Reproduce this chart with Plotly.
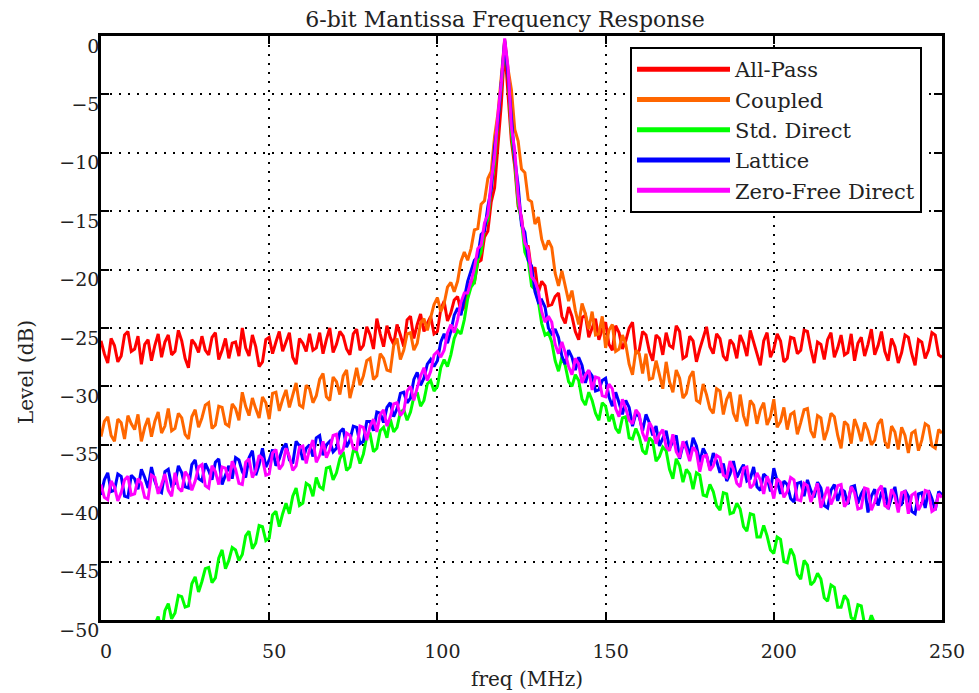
import plotly.graph_objects as go

# frequency samples (MHz), 1 MHz apart
freq_mhz = list(range(0, 251))

all_pass = [
    -26.1, -27.2, -28.0, -25.9, -26.5, -27.9, -27.4, -25.6, -25.3, -27.0,
    -26.8, -25.7, -28.1, -26.4, -26.0, -27.8, -26.5, -25.5, -27.5, -26.2,
    -25.6, -27.3, -27.0, -25.2, -26.1, -27.6, -28.4, -26.0, -26.4, -27.1,
    -25.7, -26.9, -27.3, -25.8, -25.4, -27.7, -26.9, -25.9, -27.6, -26.3,
    -26.2, -27.4, -25.0, -26.7, -27.4, -25.6, -26.6, -28.3, -27.9, -26.0,
    -25.8, -27.2, -26.2, -25.3, -27.0, -26.1, -25.4, -27.5, -28.1, -25.9,
    -26.3, -27.0, -25.5, -26.9, -26.7, -25.4, -27.2, -26.0, -25.0, -27.1,
    -26.4, -25.3, -25.7, -26.8, -27.3, -25.5, -25.1, -26.9, -26.5, -24.9,
    -25.6, -26.8, -24.2, -25.5, -26.6, -24.8, -25.8, -26.4, -24.7, -25.6,
    -26.6, -24.3, -24.0, -25.9, -24.7, -23.8, -25.3, -24.6, -24.0, -25.5,
    -25.3, -23.4, -22.7, -24.4, -23.7, -22.6, -22.3, -23.6, -23.2, -21.7,
    -21.0, -21.1, -19.4, -19.2, -17.2, -16.7, -14.2, -13.0, -9.1, -5.8,
    -1.0, -4.6, -9.0, -11.2, -14.6, -15.5, -17.9, -18.0, -20.2, -19.8,
    -22.0, -21.0, -21.4, -23.1, -23.0, -22.3, -22.0, -24.0, -24.6, -23.2,
    -24.0, -25.3, -26.0, -24.1, -23.9, -25.8, -25.0, -24.2, -26.0, -25.1,
    -24.5, -26.4, -26.9, -24.8, -25.4, -26.8, -26.1, -25.0, -24.5, -27.2,
    -26.9, -25.3, -25.6, -27.0, -27.8, -25.6, -25.9, -27.3, -25.4, -26.5,
    -26.7, -24.8, -25.3, -27.6, -27.4, -25.7, -26.1, -27.9, -26.8, -25.9,
    -24.9, -26.6, -27.2, -25.5, -25.9, -27.4, -27.8, -26.0, -26.4, -27.6,
    -25.6, -26.3, -27.4, -25.2, -26.2, -27.3, -28.2, -26.1, -25.4, -27.5,
    -26.8, -25.5, -26.1, -27.9, -27.6, -25.8, -25.9, -27.2, -26.9, -25.2,
    -25.3, -26.8, -28.0, -26.2, -26.4, -27.7, -26.0, -25.4, -27.5, -26.7,
    -25.6, -27.3, -27.1, -25.5, -27.8, -26.3, -25.8, -27.4, -26.4, -25.1,
    -27.3, -26.5, -25.3, -27.0, -27.8, -25.9, -26.6, -28.0, -27.1, -25.6,
    -25.8, -27.2, -28.2, -26.0, -26.2, -27.6, -26.9, -25.4, -25.6, -27.3,
    -27.5,
]

coupled = [
    -34.3, -33.0, -32.6, -34.2, -34.7, -32.8, -33.1, -34.5, -32.5, -33.2,
    -33.7, -32.4, -34.7, -33.5, -32.7, -34.3, -33.0, -32.2, -34.0, -33.4,
    -31.9, -33.8, -33.6, -32.3, -32.7, -34.1, -34.5, -32.6, -32.0, -33.5,
    -32.7, -31.6, -31.4, -33.6, -33.3, -31.7, -31.8, -33.2, -33.4, -31.5,
    -31.9, -32.9, -30.5, -31.7, -32.5, -31.0, -31.9, -32.7, -30.9, -31.4,
    -32.8, -30.6, -30.5, -32.1, -31.1, -30.3, -31.8, -30.8, -29.7, -31.6,
    -31.8, -29.9, -30.2, -31.4, -30.8, -29.4, -28.9, -30.9, -31.2, -29.2,
    -29.6, -30.7, -29.1, -28.6, -31.0, -29.8, -28.4, -29.9, -29.1, -27.8,
    -27.6, -29.4, -29.1, -27.2, -27.6, -28.6, -28.7, -26.5, -25.9, -27.7,
    -26.9, -25.5, -25.4, -26.9, -26.3, -24.6, -24.2, -25.2, -24.2, -23.0,
    -22.4, -23.6, -22.9, -21.5, -21.1, -21.9, -21.0, -19.3, -18.5, -19.2,
    -18.2, -16.6, -16.5, -14.4, -14.1, -12.2, -11.6, -8.6, -6.6, -3.2,
    -0.3, -2.8, -4.6, -8.0, -9.0, -11.4, -11.7, -14.0, -14.2, -16.1,
    -15.5, -17.4, -18.3, -17.5, -18.1, -20.3, -21.4, -20.1, -21.3, -22.7,
    -21.8, -23.5, -24.7, -22.9, -23.8, -25.1, -23.6, -25.6, -25.5, -24.0,
    -26.7, -25.2, -24.7, -27.0, -26.8, -25.6, -26.4, -28.1, -29.0, -26.9,
    -27.2, -28.9, -27.2, -29.4, -29.3, -27.8, -29.0, -30.2, -27.9, -29.6,
    -30.5, -28.6, -29.3, -31.0, -30.6, -29.2, -28.7, -31.2, -31.4, -29.8,
    -30.7, -31.9, -32.3, -30.2, -30.4, -32.4, -31.1, -30.5, -32.3, -33.0,
    -30.7, -32.5, -33.4, -31.2, -31.6, -33.2, -32.0, -31.4, -33.3, -32.6,
    -31.1, -33.5, -33.0, -31.8, -33.7, -32.4, -32.2, -34.1, -33.1, -32.0,
    -31.9, -33.8, -34.4, -32.5, -32.7, -34.6, -33.7, -32.3, -32.6, -34.2,
    -35.3, -33.0, -33.3, -34.9, -32.8, -33.6, -34.7, -33.1, -33.8, -35.0,
    -34.6, -33.2, -32.8, -34.7, -35.3, -33.4, -33.9, -35.4, -33.5, -34.2,
    -35.7, -34.0, -33.8, -35.5, -34.6, -33.2, -33.4, -35.1, -35.3, -33.7,
    -34.0,
]

std_direct = [
    None, None, None, None, None, None, None, None, None, None,
    None, None, None, None, None, None, -50.4, -49.7, -51.1, -49.2,
    -48.6, -49.9, -49.4, -47.9, -48.0, -48.9, -48.8, -46.9, -46.3, -47.6,
    -46.7, -45.6, -45.5, -46.8, -46.4, -44.7, -44.0, -45.6, -44.9, -43.8,
    -44.0, -44.9, -44.4, -42.8, -42.4, -43.9, -43.4, -41.9, -42.0, -43.2,
    -43.0, -41.0, -40.7, -42.0, -40.9, -40.0, -40.9, -39.4, -38.7, -40.2,
    -40.0, -38.3, -38.5, -39.4, -37.8, -38.6, -38.8, -37.0, -36.9, -38.0,
    -37.4, -36.2, -35.6, -37.2, -36.9, -35.5, -35.6, -36.6, -35.8, -34.3,
    -34.1, -35.6, -35.3, -33.8, -33.5, -34.4, -32.8, -33.9, -33.5, -32.2,
    -32.0, -32.9, -32.2, -30.9, -30.5, -31.7, -31.2, -29.8, -29.5, -30.4,
    -30.0, -28.4, -27.7, -28.3, -27.3, -25.9, -25.2, -25.5, -24.3, -22.5,
    -21.5, -21.1, -19.2, -18.5, -16.4, -15.7, -13.0, -10.8, -7.1, -4.3,
    -0.5, -3.2, -8.4, -10.6, -14.3, -15.9, -18.5, -19.2, -21.4, -21.7,
    -22.7, -24.6, -25.6, -25.4, -26.2, -27.8, -28.7, -27.5, -28.2, -29.6,
    -30.0, -29.0, -29.5, -31.1, -31.6, -30.5, -31.2, -32.3, -32.9, -31.4,
    -31.7, -33.0, -32.4, -33.6, -34.0, -32.7, -32.6, -34.4, -34.5, -33.6,
    -34.3, -35.5, -35.8, -34.4, -34.7, -36.4, -36.0, -35.2, -35.5, -37.1,
    -37.9, -36.2, -36.8, -38.2, -37.1, -37.5, -38.8, -37.4, -37.6, -39.3,
    -39.4, -38.4, -39.0, -40.2, -40.6, -39.1, -39.2, -40.9, -40.8, -40.0,
    -40.5, -42.0, -42.4, -40.9, -41.0, -42.9, -42.9, -41.9, -42.8, -44.0,
    -44.3, -42.9, -43.1, -45.0, -45.1, -43.9, -44.5, -46.1, -46.5, -44.9,
    -45.3, -47.0, -46.7, -46.0, -46.5, -48.1, -48.4, -47.0, -47.2, -48.9,
    -48.9, -47.9, -48.3, -49.8, -50.0, -48.7, -48.8, -50.4, -50.5, -49.6,
    -50.3, -51.2, -51.9, None, None, None, None, None, None, None,
    None, None, None, None, None, None, None, None, None, None,
    None,
]

lattice = [
    -39.3, -38.0, -37.4, -39.0, -38.9, -37.5, -37.7, -39.4, -39.5, -37.6,
    -37.9, -38.8, -37.1, -37.8, -38.7, -36.9, -38.1, -38.9, -39.1, -37.3,
    -37.1, -38.5, -38.3, -36.8, -37.4, -38.6, -38.7, -36.7, -36.3, -37.9,
    -38.1, -36.6, -37.2, -38.0, -36.5, -36.2, -38.4, -37.5, -36.8, -37.9,
    -36.1, -36.3, -37.3, -37.8, -36.1, -35.5, -37.6, -36.7, -35.3, -36.9,
    -36.3, -35.4, -36.8, -36.2, -35.3, -34.9, -36.3, -36.6, -34.7, -35.1,
    -36.3, -35.3, -35.0, -36.0, -34.4, -34.2, -35.9, -35.0, -34.7, -35.6,
    -35.3, -33.9, -33.6, -35.2, -34.6, -33.4, -33.5, -34.9, -34.7, -33.0,
    -33.0, -33.8, -32.2, -32.3, -33.1, -31.8, -31.4, -32.6, -31.9, -30.6,
    -30.5, -31.4, -31.0, -29.4, -28.8, -29.9, -29.3, -28.1, -27.7, -28.3,
    -27.8, -26.2, -25.5, -26.3, -25.3, -23.9, -23.3, -23.9, -22.6, -21.0,
    -20.1, -19.2, -18.9, -17.0, -16.7, -14.6, -13.1, -9.5, -7.4, -3.5,
    -0.4, -3.4, -7.0, -10.5, -12.8, -16.2, -16.8, -19.2, -19.7, -21.9,
    -22.8, -22.6, -23.2, -25.0, -25.5, -25.1, -25.8, -27.4, -28.1, -26.9,
    -27.5, -28.6, -27.5, -28.2, -29.7, -28.7, -29.1, -30.4, -30.3, -29.5,
    -29.3, -30.9, -31.7, -30.5, -31.4, -32.4, -31.2, -31.8, -33.4, -32.3,
    -32.6, -33.8, -32.4, -33.1, -34.2, -33.4, -35.1, -34.5, -33.8, -35.3,
    -34.7, -34.2, -36.2, -35.0, -34.8, -36.0, -34.4, -35.1, -36.5, -35.3,
    -35.9, -37.0, -35.7, -36.4, -37.4, -36.6, -38.1, -37.5, -36.4, -37.8,
    -37.2, -36.7, -38.1, -37.9, -36.9, -38.6, -38.9, -37.5, -37.8, -39.0,
    -37.0, -38.0, -39.2, -38.1, -38.4, -39.6, -39.9, -38.3, -38.2, -39.4,
    -38.0, -38.9, -39.5, -38.2, -38.7, -40.2, -40.4, -38.9, -38.4, -39.8,
    -38.8, -39.0, -40.1, -38.6, -38.5, -40.0, -39.2, -38.7, -40.8, -39.4,
    -38.8, -40.2, -39.1, -38.7, -40.5, -39.5, -38.6, -40.3, -40.1, -38.9,
    -39.4, -40.7, -40.9, -39.2, -39.1, -40.4, -38.9, -39.6, -40.6, -39.0,
    -39.3,
]

zero_free_direct = [
    -38.4, -39.5, -39.7, -38.1, -38.6, -39.8, -39.1, -38.0, -37.7, -39.3,
    -39.2, -37.9, -38.3, -39.5, -39.6, -37.6, -37.8, -39.2, -38.4, -37.5,
    -38.9, -39.4, -37.4, -38.7, -39.0, -37.3, -37.7, -38.9, -38.1, -36.9,
    -36.7, -38.5, -38.7, -36.8, -37.3, -38.4, -36.9, -37.0, -38.1, -36.4,
    -37.1, -38.3, -38.4, -36.5, -36.2, -37.8, -37.2, -35.9, -36.2, -37.6,
    -37.5, -35.7, -35.4, -37.1, -36.7, -35.3, -36.0, -37.2, -36.8, -35.2,
    -35.1, -36.6, -35.4, -34.6, -36.5, -35.9, -34.7, -36.1, -35.4, -34.2,
    -34.1, -35.8, -35.4, -34.0, -34.2, -35.3, -35.4, -33.4, -33.5, -34.6,
    -33.4, -32.8, -33.9, -32.4, -32.0, -33.4, -32.6, -31.5, -31.4, -32.5,
    -32.1, -30.4, -30.0, -31.2, -30.1, -29.1, -28.4, -29.5, -28.7, -27.3,
    -27.0, -27.5, -26.9, -25.4, -24.7, -25.4, -24.3, -22.8, -22.0, -22.0,
    -21.0, -19.9, -18.2, -17.9, -16.0, -15.3, -12.4, -10.3, -6.7, -4.0,
    -0.2, -2.7, -7.8, -9.8, -13.7, -15.5, -17.7, -18.3, -20.6, -21.0,
    -21.8, -23.6, -24.5, -24.0, -24.5, -26.4, -27.2, -26.2, -27.1, -28.3,
    -29.0, -27.6, -28.1, -29.7, -29.0, -28.6, -30.3, -29.2, -29.3, -30.8,
    -30.9, -29.8, -30.2, -31.9, -32.6, -31.1, -31.9, -32.9, -33.2, -32.0,
    -32.4, -34.0, -34.7, -33.1, -33.6, -34.9, -34.1, -33.7, -35.2, -35.5,
    -34.1, -35.6, -36.1, -34.7, -35.4, -36.4, -35.2, -35.6, -37.3, -36.0,
    -35.9, -37.2, -36.8, -35.9, -36.1, -37.6, -37.8, -36.4, -37.1, -38.3,
    -38.6, -37.0, -36.9, -38.7, -38.4, -37.4, -38.0, -39.2, -37.7, -38.4,
    -39.6, -37.9, -38.2, -39.5, -39.0, -37.8, -38.0, -39.7, -39.8, -38.3,
    -38.5, -39.9, -39.0, -38.3, -40.4, -39.5, -38.6, -40.1, -39.4, -38.5,
    -38.4, -40.3, -39.9, -38.6, -39.1, -40.5, -40.4, -38.7, -38.8, -40.6,
    -39.9, -38.9, -38.5, -40.2, -40.4, -38.8, -39.4, -40.8, -39.1, -39.0,
    -40.9, -39.3, -39.1, -40.6, -40.0, -38.9, -39.0, -40.7, -40.5, -39.2,
    -39.5,
]

series_names = ["All-Pass", "Coupled", "Std. Direct", "Lattice", "Zero-Free Direct"]
series_values = [all_pass, coupled, std_direct, lattice, zero_free_direct]
series_colors = ["#FF0000", "#FF6600", "#00FF00", "#0000FF", "#FF00FF"]
x_ticks = [0, 50, 100, 150, 200, 250]
y_ticks = [0, -5, -10, -15, -20, -25, -30, -35, -40, -45, -50]

FONT = "DejaVu Serif"
# the page adds an 8 px body margin; the figure is sized to fill the rest
OFF = 8
W, H = 979 - OFF, 693 - OFF
PX0, PX1, PY0, PY1 = 101, 942, 36, 620   # plot area in page pixels
L, R, T, B = PX0 - OFF, 979 - PX1, PY0 - OFF, 693 - PY1
pw, ph = PX1 - PX0, PY1 - PY0

fig = go.Figure()
for name, vals, col in zip(series_names, series_values, series_colors):
    fig.add_trace(go.Scatter(x=freq_mhz, y=vals, mode="lines", name=name,
                             line=dict(color=col, width=3),
                             showlegend=False, hoverinfo="skip"))
for name, col in zip(series_names, series_colors):
    fig.add_trace(go.Scatter(x=[None], y=[None], mode="lines", name=name,
                             line=dict(color=col, width=5), showlegend=True))

axis_common = dict(
    showline=True, linecolor="black", linewidth=2.5, mirror="ticks",
    ticks="inside", ticklen=8, tickwidth=2, tickcolor="black",
    showgrid=True, gridcolor="black", gridwidth=2, griddash="2px,7px",
    zeroline=False, tickfont=dict(family=FONT, size=19, color="#222"),
)

fig.update_xaxes(range=[0, 250], tickvals=x_ticks, ticklabelshift=5,
                 ticklabelstandoff=12, **axis_common)
fig.update_yaxes(range=[-50, 0], tickvals=y_ticks, ticklabelshift=10,
                 ticklabelstandoff=-5, **axis_common)

fig.update_layout(
    width=W, height=H,
    margin=dict(l=L, r=R, t=T, b=B),
    paper_bgcolor="white", plot_bgcolor="white",
    title=dict(text="6-bit Mantissa Frequency Response",
               font=dict(family=FONT, size=22, color="#222"),
               x=(505 - OFF) / W, xanchor="center", xref="container",
               y=1 - 4 / H, yanchor="top", yref="container", pad=dict(t=0)),
    legend=dict(x=(630 - PX0) / pw, y=(PY1 - 47) / ph, xanchor="left", yanchor="top",
                bgcolor="white", bordercolor="black", borderwidth=2,
                font=dict(family=FONT, size=21, color="#222"), itemwidth=93),
    annotations=[
        dict(text="Level (dB)", textangle=-90, xref="paper", yref="paper",
             x=(26 - PX0) / pw, y=(PY1 - 372) / ph, showarrow=False,
             xanchor="center", yanchor="middle",
             font=dict(family=FONT, size=20, color="#222")),
        dict(text="freq (MHz)", xref="paper", yref="paper",
             x=(527 - PX0) / pw, y=(PY1 - 679) / ph, showarrow=False,
             xanchor="center", yanchor="middle",
             font=dict(family=FONT, size=20, color="#222")),
    ],
)

fig.write_html("out.html")
